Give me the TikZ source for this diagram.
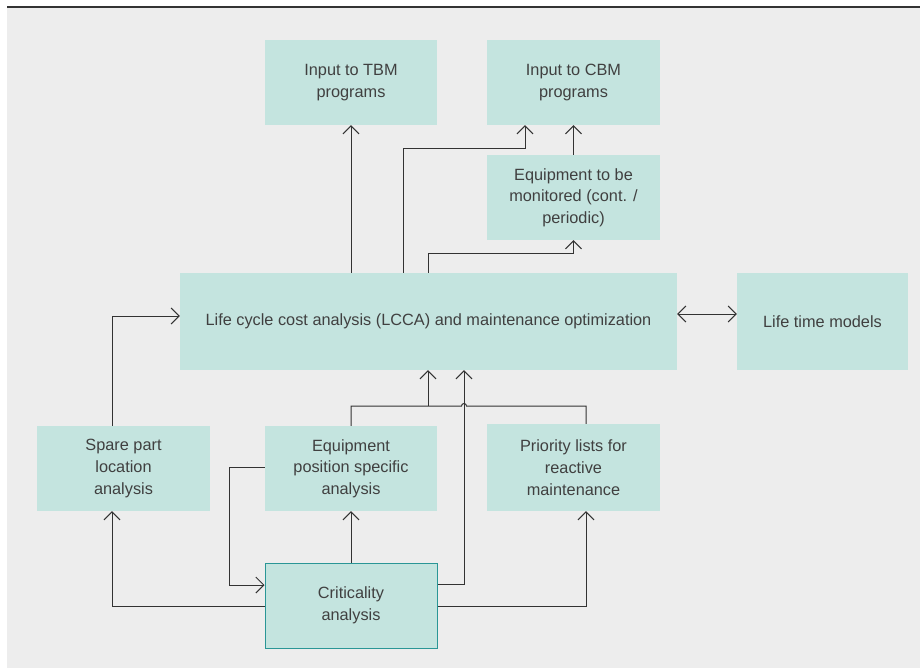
\documentclass[tikz,border=0pt]{standalone}
\usepackage{fontspec}
\setmainfont{Liberation Sans}
\usetikzlibrary{arrows.meta}
\definecolor{bgc}{HTML}{EDEDED}
\definecolor{boxc}{HTML}{C4E4DF}
\definecolor{txtc}{HTML}{404040}
\definecolor{lnc}{HTML}{333333}
\definecolor{critb}{HTML}{2A9696}
\begin{document}
\begin{tikzpicture}[x=1pt,y=-1pt,
  box/.style={fill=boxc, inner sep=0pt, align=center, text=txtc,
    font=\fontsize{16.3}{21.7}\selectfont},
  sbox/.style={box, minimum width=172pt, minimum height=85pt},
  conn/.style={draw=lnc, line width=1pt},
  arr/.style={conn, -{Straight Barb[length=8pt,width=16pt]}},
  darr/.style={conn, {Straight Barb[length=8pt,width=16pt]}-{Straight Barb[length=8pt,width=16pt]}}]
\useasboundingbox (0,0) rectangle (920,668);
\fill[bgc] (7,8) rectangle (920,668);
\draw[lnc, line width=1.5pt] (7,7) -- (920,7);

% nodes
\node[sbox] (tbm) at (351,82.5) {Input to TBM\\programs};
\node[sbox, minimum width=173pt] (cbm) at (573.5,82.5) {Input to CBM\\programs};
\node[sbox, minimum width=173pt] (mon) at (573.5,197.5) {Equipment to be\\monitored (cont. /\\periodic)};
\node[box, minimum width=497pt, minimum height=97pt] (lcca) at (428.5,321.5) {Life cycle cost analysis (LCCA) and maintenance optimization};
\node[box, minimum width=171pt, minimum height=97pt] (life) at (822.5,321.5) {Life time models};
\node[sbox, minimum width=173pt] (spare) at (123.5,468.5) {Spare part\\location\\analysis};
\node[sbox] (eqpos) at (351,468.5) {Equipment\\position specific\\analysis};
\node[sbox, minimum width=173pt, minimum height=87pt] (prio) at (573.5,467.5) {Priority lists for\\reactive\\maintenance};
\node[sbox, draw=critb, line width=1pt] (crit) at (351,605.5) {Criticality\\analysis};

% helper coordinates
\coordinate (x403) at (403,0);
\coordinate (x428) at (428,0);
\coordinate (x464) at (464,0);
\coordinate (x525) at (525,0);
\coordinate (x586) at (586,0);
\coordinate (x112) at (112,0);
\coordinate (x229) at (229,0);
\coordinate (y149) at (0,149);
\coordinate (y253) at (0,253);
\coordinate (y314) at (0,314);
\coordinate (y316) at (0,316);
\coordinate (y406) at (0,406);
\coordinate (y467) at (0,467);
\coordinate (y584) at (0,584);
\coordinate (y585) at (0,585);
\coordinate (y606) at (0,606);

% connectors
\draw[arr] (lcca.north -| tbm.south) -- (tbm.south);
\draw[arr] (lcca.north -| x403) -- (x403 |- y149) -- (x525 |- y149) -- (cbm.south -| x525);
\draw[arr] (mon.north) -- (cbm.south);
\draw[arr] (lcca.north -| x428) -- (x428 |- y253) -| (mon.south);
\draw[darr] (lcca.east |- y314) -- (life.west |- y314);
\draw[arr] (spare.north -| x112) -- (x112 |- y316) -- (lcca.west |- y316);
\draw[arr] (crit.west |- y606) -- (x112 |- y606) -- (spare.south -| x112);
\draw[arr] (eqpos.west |- y467) -- (x229 |- y467) -- (x229 |- y585) -- (crit.west |- y585);
\draw[arr] (crit.north) -- (eqpos.south);
\draw[arr] (crit.east |- y584) -- (x464 |- y584) -- (lcca.south -| x464);
\draw[conn] (eqpos.north) -- (eqpos.north |- y406) -- (461.5,406)
  arc[start angle=180, end angle=0, radius=2.5pt] -- (x586 |- y406) -- (prio.north -| x586);
\draw[arr] (x428 |- y406) -- (lcca.south -| x428);
\draw[arr] (crit.east |- y606) -- (x586 |- y606) -- (prio.south -| x586);
\end{tikzpicture}
\end{document}
